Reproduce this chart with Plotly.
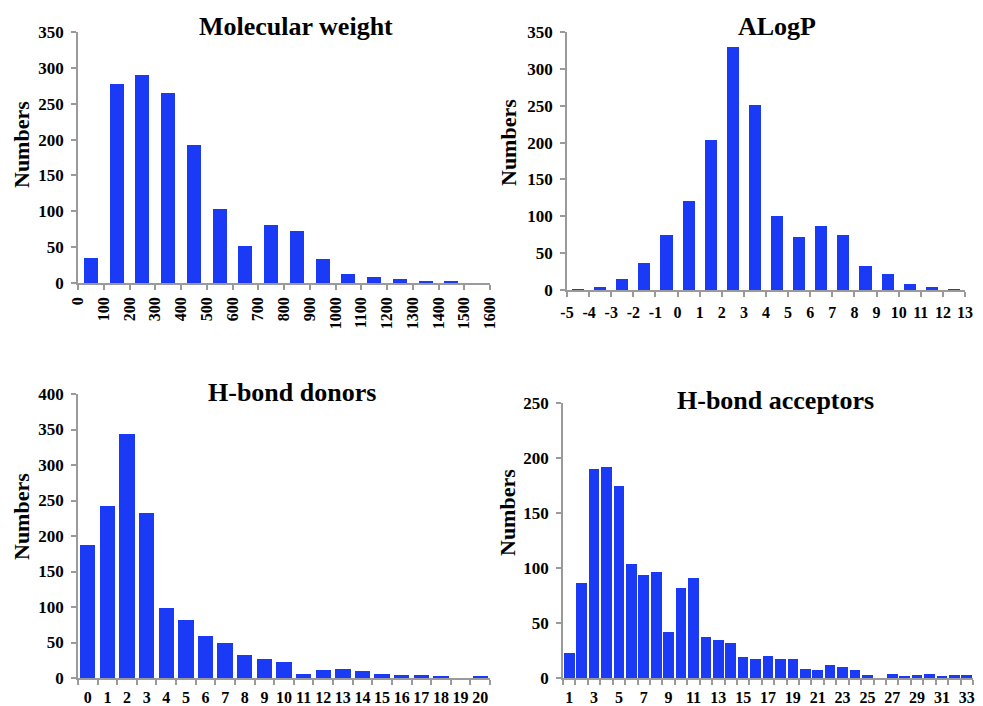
import plotly.graph_objects as go

# ---------------- data ----------------
mw_edges = [0, 100, 200, 300, 400, 500, 600, 700, 800, 900, 1000, 1100, 1200, 1300, 1400, 1500, 1600]
mw_counts = [35, 278, 290, 265, 192, 103, 52, 81, 72, 34, 12, 9, 5, 2, 2, 0]

alogp_edges = [-5, -4, -3, -2, -1, 0, 1, 2, 3, 4, 5, 6, 7, 8, 9, 10, 11, 12, 13]
alogp_counts = [1, 4, 15, 37, 74, 121, 203, 330, 251, 101, 72, 87, 74, 33, 22, 8, 4, 1]

hbd_cats = list(range(0, 21))
hbd_counts = [188, 242, 344, 232, 99, 82, 59, 49, 33, 27, 22, 6, 11, 12, 10, 5, 4, 4, 3, 0, 3]

hba_cats = list(range(1, 34))
hba_counts = [23, 86, 190, 192, 175, 104, 94, 96, 42, 82, 91, 37, 35, 32, 19, 17, 20, 17, 17,
              8, 7, 12, 10, 7, 3, 0, 4, 1, 3, 4, 1, 3, 3]

titles = ["Molecular weight", "ALogP", "H-bond donors", "H-bond acceptors"]
y_label = "Numbers"

# ---------------- style ----------------
W, H = 983, 706
OFF = 8  # page body margin offset
BAR = "#1a3af5"
AX = "#9a9a9a"
FONT = "Liberation Serif"
YTICKF = dict(family=FONT, size=17, color="black", weight="bold")
XTICKF = dict(family=FONT, size=16, color="black", weight="bold")


def px_x(v):
    return (v - OFF) / W


def px_y(v):
    return 1 - (v - OFF) / H


def dom_x(a, b):
    return [px_x(a), px_x(b)]


def dom_y(top, bottom):
    return [px_y(bottom), px_y(top)]


fig = go.Figure()

mw_centers = [(mw_edges[i] + mw_edges[i + 1]) / 2 for i in range(len(mw_counts))]
fig.add_trace(go.Bar(x=mw_centers, y=mw_counts, width=55, marker=dict(color=BAR, line=dict(width=0)),
                     xaxis="x", yaxis="y", showlegend=False))
al_centers = [(alogp_edges[i] + alogp_edges[i + 1]) / 2 for i in range(len(alogp_counts))]
fig.add_trace(go.Bar(x=al_centers, y=alogp_counts, width=0.55, marker=dict(color=BAR, line=dict(width=0)),
                     xaxis="x2", yaxis="y2", showlegend=False))
fig.add_trace(go.Bar(x=hbd_cats, y=hbd_counts, width=0.78, marker=dict(color=BAR, line=dict(width=0)),
                     xaxis="x3", yaxis="y3", showlegend=False))
fig.add_trace(go.Bar(x=hba_cats, y=hba_counts, width=0.86, marker=dict(color=BAR, line=dict(width=0)),
                     xaxis="x4", yaxis="y4", showlegend=False))

common_x = dict(showline=True, linecolor=AX, linewidth=1.5, showgrid=False, zeroline=False,
                tickfont=XTICKF, fixedrange=True, automargin=False, ticklabeloverflow="allow")
common_y = dict(showline=True, linecolor=AX, linewidth=1.5, showgrid=False, zeroline=False,
                ticks="outside", ticklen=5, tickcolor=AX, tickwidth=1.5, tickfont=YTICKF,
                dtick=50, tick0=0, ticklabelstandoff=4, fixedrange=True, automargin=False)

fig.update_layout(
    template="none",
    width=W, height=H,
    margin=dict(l=0, r=0, t=0, b=0, pad=0, autoexpand=False),
    paper_bgcolor="white", plot_bgcolor="white",
    font=dict(family=FONT, color="black"),
    bargap=0,
    xaxis=dict(common_x, domain=dom_x(78, 490), anchor="y", range=[0, 1600],
               tickmode="array", tickvals=mw_edges, ticktext=[str(v) for v in mw_edges],
               tickangle=-90, ticks="outside", ticklen=5, tickcolor=AX, tickwidth=1.5,
               ticklabelstandoff=1),
    yaxis=dict(common_y, domain=dom_y(32, 283), anchor="x", range=[0, 350]),
    xaxis2=dict(common_x, domain=dom_x(567, 965), anchor="y2", range=[-5, 13],
                tickmode="array", tickvals=alogp_edges, ticktext=[str(v) for v in alogp_edges],
                tickangle=0, ticks="outside", ticklen=5, tickcolor=AX, tickwidth=1.5,
                ticklabelstandoff=2),
    yaxis2=dict(common_y, domain=dom_y(32, 290), anchor="x2", range=[0, 350]),
    xaxis3=dict(common_x, domain=dom_x(78, 490), anchor="y3", range=[-0.5, 20.5],
                tickmode="array", tickvals=hbd_cats, ticktext=[str(v) for v in hbd_cats],
                tickangle=0, ticks="", ticklabelstandoff=4,
                minor=dict(tickmode="array", tickvals=[c - 0.5 for c in hbd_cats] + [hbd_cats[-1] + 0.5],
                           ticks="outside", ticklen=5, tickcolor=AX, tickwidth=1.5, showgrid=False)),
    yaxis3=dict(common_y, domain=dom_y(394, 678), anchor="x3", range=[0, 400]),
    xaxis4=dict(common_x, domain=dom_x(563, 973), anchor="y4", range=[0.5, 33.5],
                tickmode="array", tickvals=hba_cats[::2], ticktext=[str(v) for v in hba_cats[::2]],
                tickangle=0, ticks="", ticklabelstandoff=4,
                minor=dict(tickmode="array", tickvals=[c - 0.5 for c in hba_cats] + [hba_cats[-1] + 0.5],
                           ticks="outside", ticklen=5, tickcolor=AX, tickwidth=1.5, showgrid=False)),
    yaxis4=dict(common_y, domain=dom_y(403, 678), anchor="x4", range=[0, 250]),
)

title_pos = [(296, 27), (777, 27), (292, 392), (775, 400)]
for t, (cx, cy) in zip(titles, title_pos):
    fig.add_annotation(text="<b>" + t + "</b>", x=px_x(cx), y=px_y(cy), xref="paper", yref="paper",
                       showarrow=False, xanchor="center", yanchor="middle",
                       font=dict(family=FONT, size=26, color="black"))

ylab_pos = [(21, 145), (508, 143), (21, 517), (507, 513)]
for (cx, cy) in ylab_pos:
    fig.add_annotation(text="<b>" + y_label + "</b>", x=px_x(cx), y=px_y(cy), xref="paper", yref="paper",
                       showarrow=False, xanchor="center", yanchor="middle", textangle=-90,
                       font=dict(family=FONT, size=22, color="black"))

fig.write_html("out.html")
